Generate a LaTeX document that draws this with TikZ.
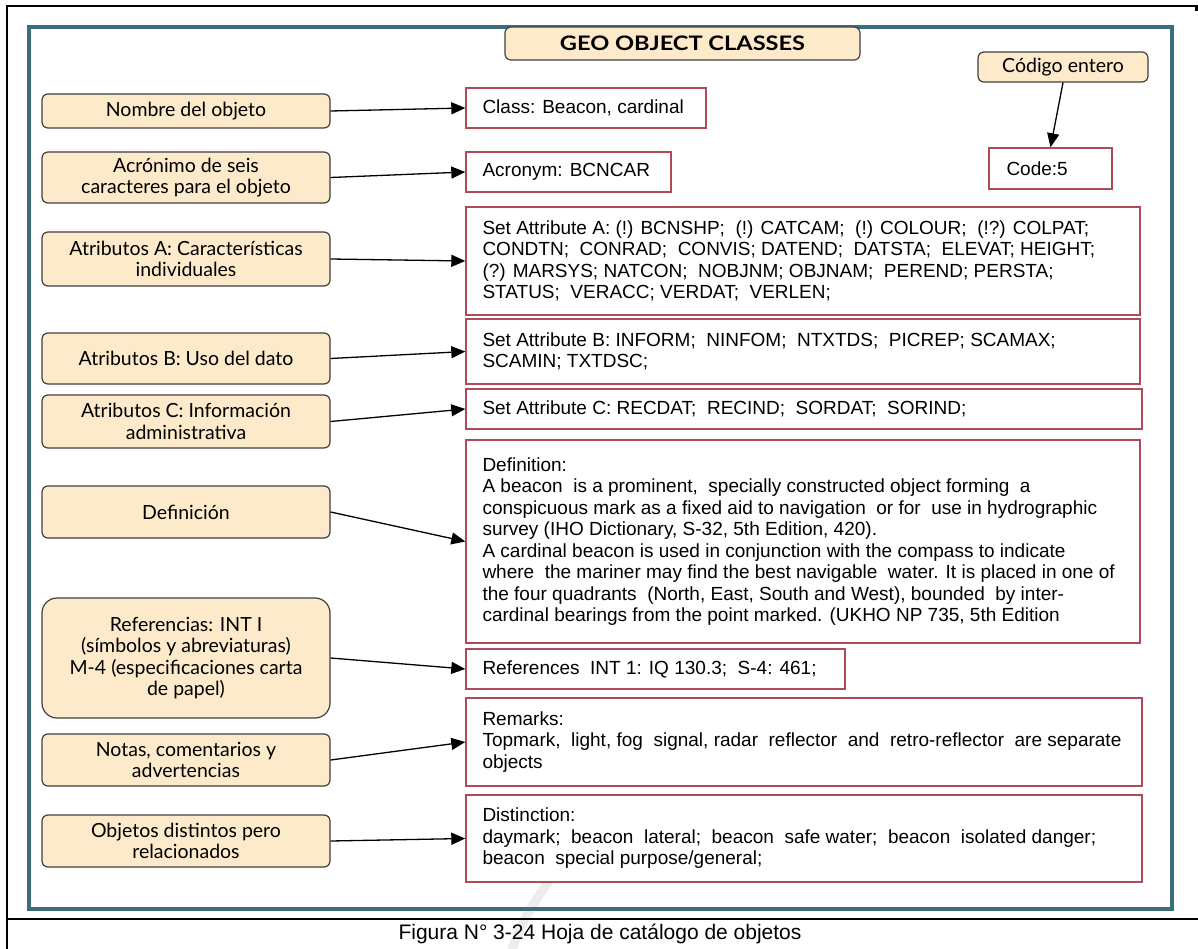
\documentclass[tikz,border=0pt]{standalone}
\usepackage{fontspec}
\setmainfont{Liberation Sans}
\newfontfamily\lblfont{Lato}
\newfontfamily\titlefont[FakeStretch=1.18]{Lato}
\newfontfamily\bodyfont{Liberation Sans}
\usetikzlibrary{arrows.meta}

\definecolor{tanfill}{HTML}{FCEACB}
\definecolor{tanline}{HTML}{3F3F3F}
\definecolor{tealframe}{HTML}{3B6E7B}
\definecolor{boxred}{HTML}{B04A58}

\tikzset{
  lbox/.style={draw=tanline, line width=1.2pt, fill=tanfill, rounded corners=6pt,
    align=center, inner sep=0pt, font=\lblfont\fontsize{19.5}{21.5}\selectfont},
  rbox/.style={draw=boxred, line width=1.4pt, fill=white, inner sep=0pt},
  rtext/.style={anchor=west, align=left, inner sep=0pt, font=\bodyfont\fontsize{19}{21.5}\selectfont},
  link/.style={line width=1.3pt, -{Triangle[length=14pt,width=12pt]}},
  rule/.style={line width=2.5pt, black},
}

\begin{document}
\begin{tikzpicture}[x=1pt,y=-1pt]
\useasboundingbox (0,0) rectangle (1198,949);
\fill[white] (0,0) rectangle (1198,949);

% faint watermark stroke behind the caption
\draw[gray!14, line width=9pt, line cap=round] (556,872) .. controls (538,895) and (522,920) .. (512,949);

% table rules around the figure and its caption
\draw[rule] (7,949) -- (7,6) -- (1198,6);
\draw[rule] (1196.5,6) -- (1196.5,11);
\draw[rule] (7,919) -- (1198,919);

% teal frame of the catalogue sheet
\draw[tealframe, line width=4pt] (29,27) rectangle (1172,909);

% title
\node[lbox, minimum width=355pt, minimum height=33pt, font=\titlefont\bfseries\fontsize{20}{22}\selectfont]
  (title) at (682.5,43.5) {GEO OBJECT CLASSES};

% integer code
\node[lbox, minimum width=170pt, minimum height=30pt] (codigo) at (1063,67) {Código entero};
\node[rbox, minimum width=123pt, minimum height=41pt] (code) at (1050.5,168.5) {};
\node[rtext] at ([xshift=18pt]code.west) {Code:5};

% left column: descriptions
\node[lbox, minimum width=288pt, minimum height=34pt] (nombre) at (186,111) {Nombre del objeto};
\node[lbox, minimum width=288pt, minimum height=51pt] (acron) at (186,177.5) {Acrónimo de seis\\caracteres para el objeto};
\node[lbox, minimum width=288pt, minimum height=54pt] (atrA) at (186,259) {Atributos A: Características\\individuales};
\node[lbox, minimum width=288pt, minimum height=51pt] (atrB) at (186,358.5) {Atributos B: Uso del dato};
\node[lbox, minimum width=288pt, minimum height=53pt] (atrC) at (186,421.5) {Atributos C: Información\\administrativa};
\node[lbox, minimum width=288pt, minimum height=52pt] (defin) at (186,512) {Definición};
\node[lbox, minimum width=288pt, minimum height=120pt, rounded corners=15pt] (refer) at (186,658)
  {Referencias: INT I\\(símbolos y abreviaturas)\\M-4 (especificaciones carta\\de papel)};
\node[lbox, minimum width=288pt, minimum height=52pt] (notas) at (186,760) {Notas, comentarios y\\advertencias};
\node[lbox, minimum width=288pt, minimum height=52pt] (objet) at (186,841) {Objetos distintos pero\\relacionados};

% right column: catalogue entries
\node[rbox, minimum width=240pt, minimum height=40pt] (cls) at (586,108) {};
\node[rtext] at ([xshift=17pt]cls.west) {Class: Beacon, cardinal};

\node[rbox, minimum width=205pt, minimum height=40pt] (acr) at (568.5,172) {};
\node[rtext] at ([xshift=17pt]acr.west) {Acronym: BCNCAR};

\node[rbox, minimum width=674pt, minimum height=108pt] (setA) at (803,261) {};
\node[rtext] at ([xshift=17pt]setA.west) {Set Attribute A: (!) BCNSHP; \ (!) CATCAM; \ (!) COLOUR; \ (!?) COLPAT;\\
CONDTN; \ CONRAD; \ CONVIS; DATEND; \ DATSTA; \ ELEVAT; HEIGHT;\\
(?) MARSYS; NATCON; \ NOBJNM; OBJNAM; \ PEREND; PERSTA;\\
STATUS; \ VERACC; VERDAT; \ VERLEN;};

\node[rbox, minimum width=674pt, minimum height=65pt] (setB) at (803,351.5) {};
\node[rtext] at ([xshift=17pt]setB.west) {Set Attribute B: INFORM; \ NINFOM; \ NTXTDS; \ PICREP; SCAMAX;\\SCAMIN; TXTDSC;};

\node[rbox, minimum width=676pt, minimum height=40pt] (setC) at (804,409) {};
\node[rtext] at ([xshift=17pt]setC.west) {Set Attribute C: RECDAT; \ RECIND; \ SORDAT; \ SORIND;};

\node[rbox, minimum width=674pt, minimum height=203pt] (defbox) at (803,541.5) {};
\node[rtext] at ([xshift=17pt]defbox.west) {Definition:\\
A beacon \ is a prominent, \ specially constructed object forming \ a\\
conspicuous mark as a fixed aid to navigation \ or for \ use in hydrographic\\
survey (IHO Dictionary, S-32, 5th Edition, 420).\\
A cardinal beacon is used in conjunction with the compass to indicate\\
where \ the mariner may find the best navigable \ water. It is placed in one of\\
the four quadrants \ (North, East, South and West), bounded \ by inter-\\
cardinal bearings from the point marked. (UKHO NP 735, 5th Edition};

\node[rbox, minimum width=379pt, minimum height=40pt] (refbox) at (655.5,669) {};
\node[rtext] at ([xshift=17pt]refbox.west) {References \ INT 1: IQ 130.3; \ S-4: 461;};

\node[rbox, minimum width=676pt, minimum height=88pt] (rembox) at (804,742) {};
\node[rtext] at ([xshift=17pt]rembox.west) {Remarks:\\
Topmark, \ light, fog \ signal, radar \ reflector \ and \ retro-reflector \ are separate\\
objects};

\node[rbox, minimum width=676pt, minimum height=87pt] (disbox) at (804,838.5) {};
\node[rtext] at ([xshift=17pt]disbox.west) {Distinction:\\
daymark; \ beacon \ lateral; \ beacon \ safe water; \ beacon \ isolated danger;\\
beacon \ special purpose/general;};

% connectors
\draw[link] (nombre.east) -- (cls.west);
\draw[link] (acron.east) -- (acr.west);
\draw[link] (atrA.east) -- (setA.west);
\draw[link] (atrB.east) -- (setB.west);
\draw[link] (atrC.east) -- (setC.west);
\draw[link] (defin.east) -- (defbox.west);
\draw[link] (refer.east) -- (refbox.west);
\draw[link] (notas.east) -- (rembox.west);
\draw[link] (objet.east) -- (disbox.west);
\draw[link] (codigo.south) -- (code.north);

% caption
\node[font=\bodyfont\fontsize{21}{24}\selectfont, inner sep=0pt] (caption) at (600,934)
  {Figura N° 3-24 Hoja de catálogo de objetos};
\end{tikzpicture}
\end{document}
